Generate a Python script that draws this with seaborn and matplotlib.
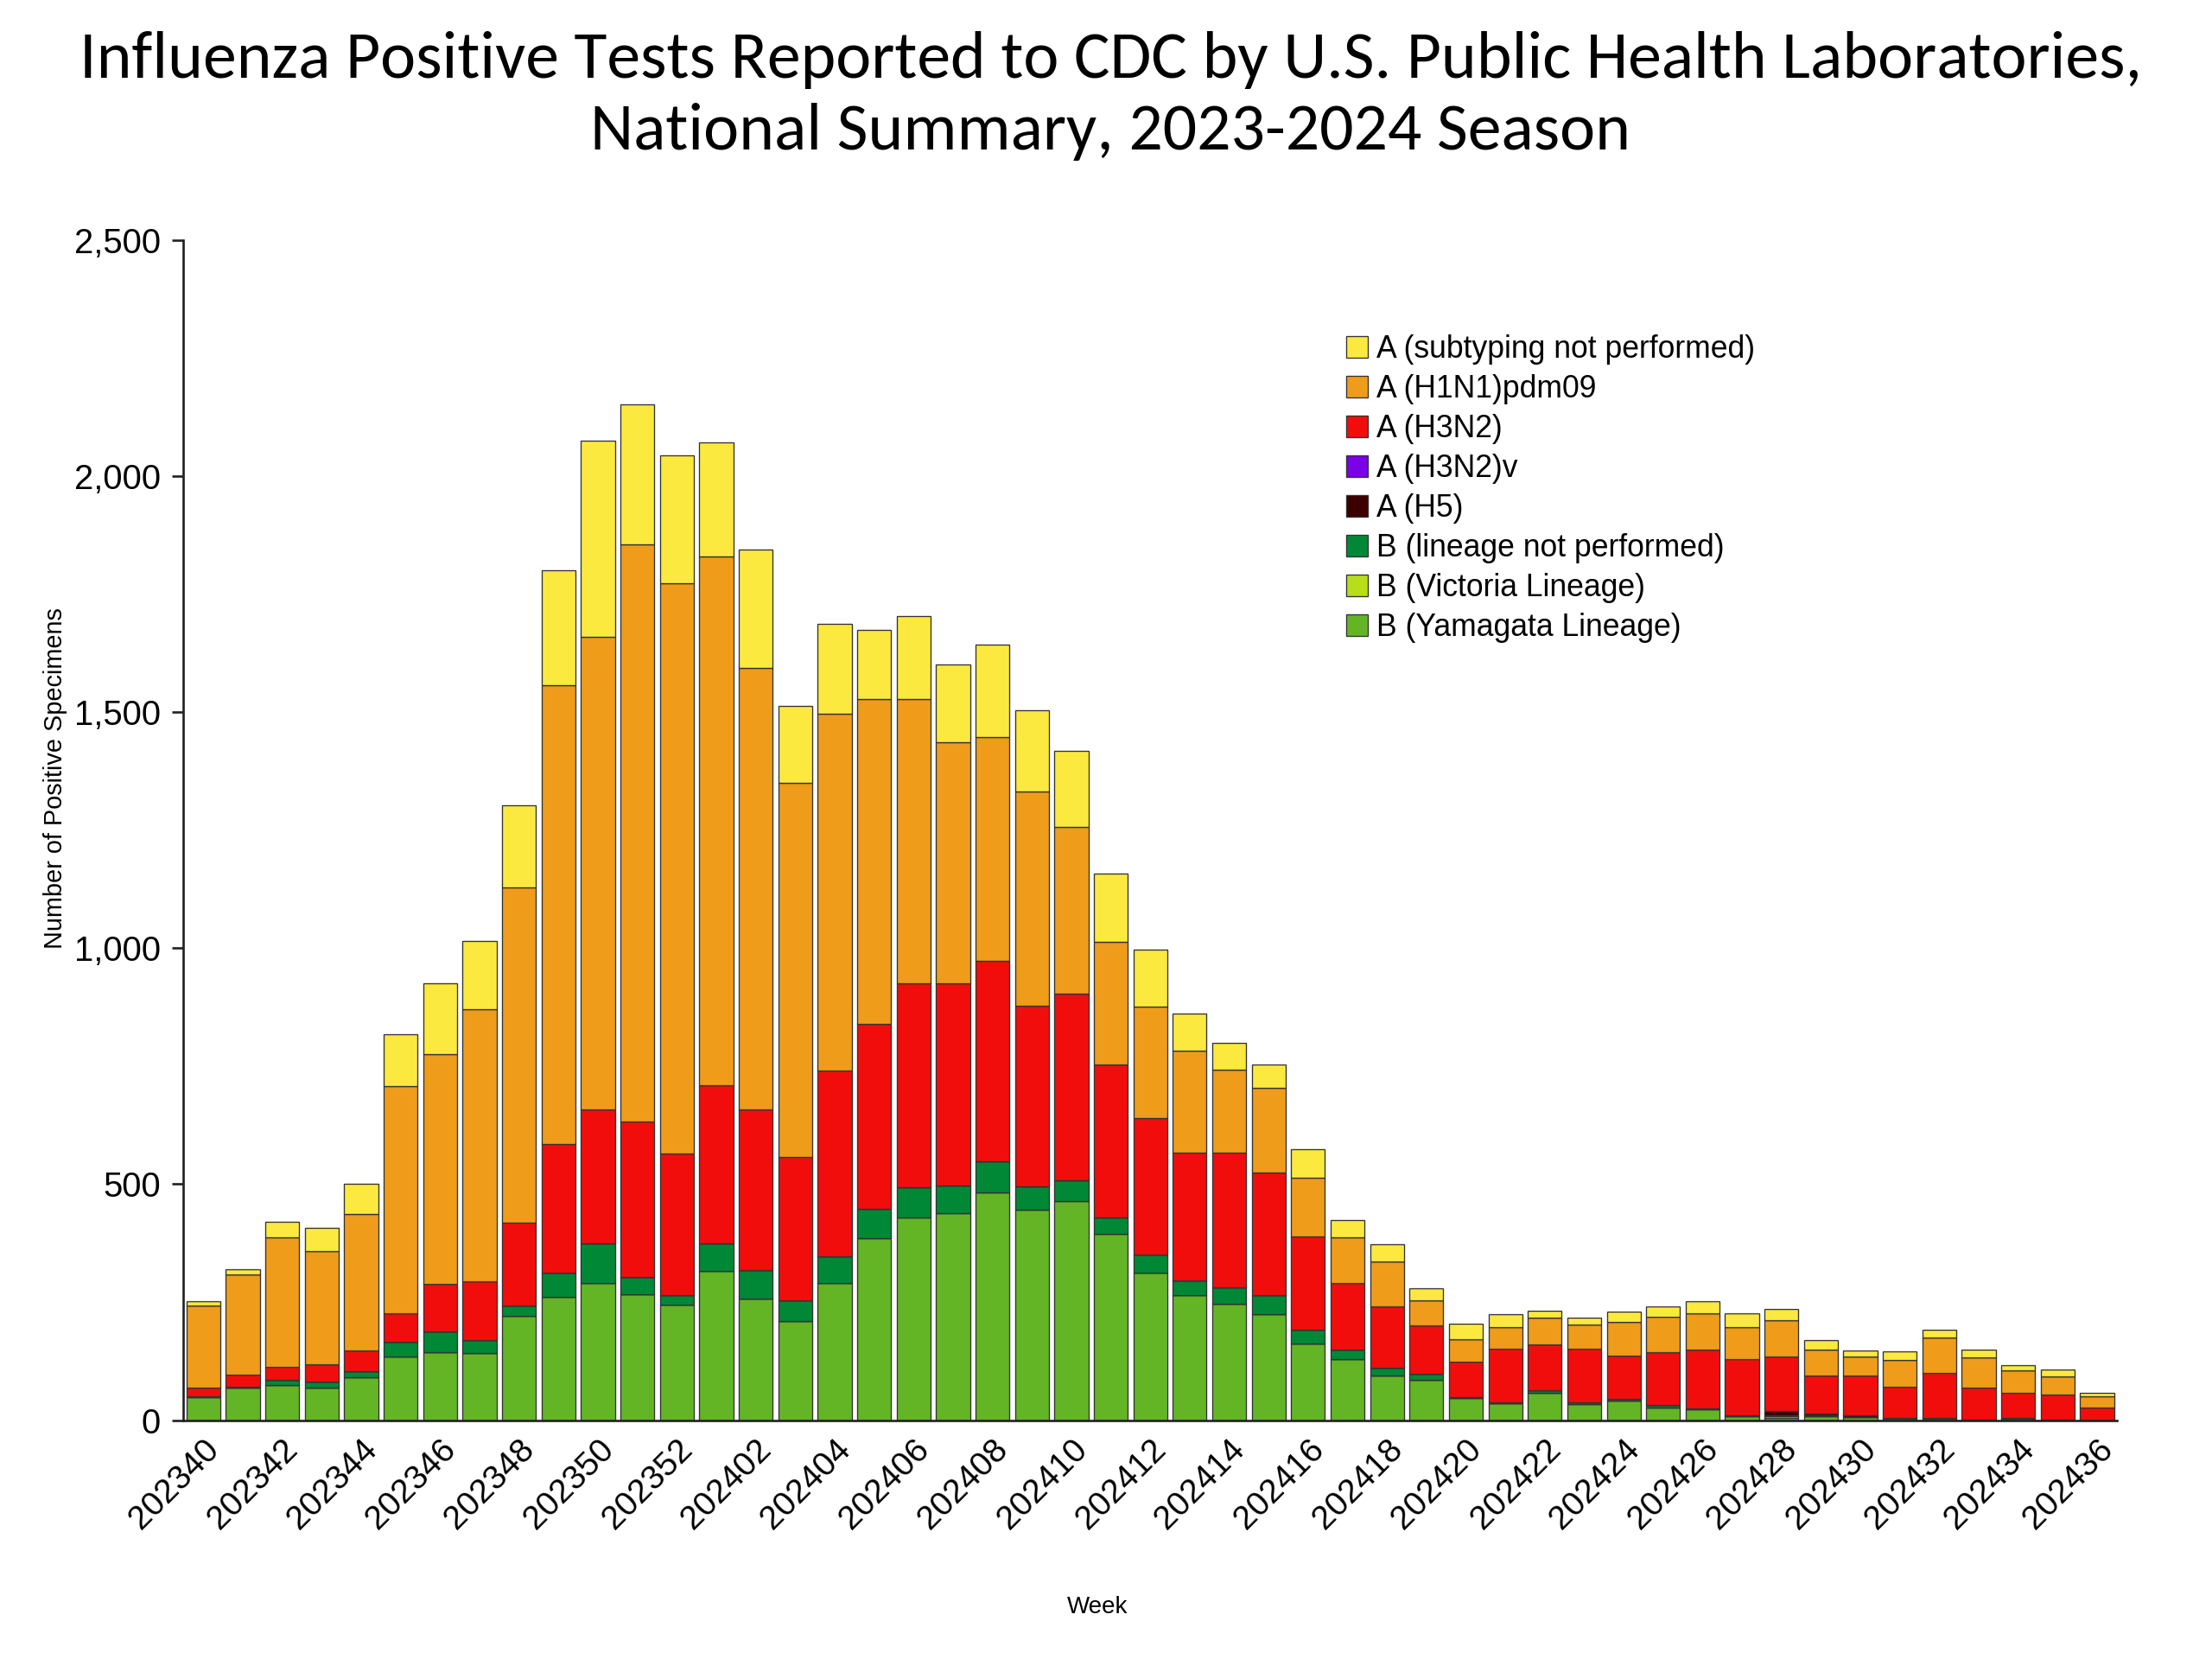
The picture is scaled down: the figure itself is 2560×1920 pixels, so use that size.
import numpy as np
import pandas as pd
import seaborn as sns
import matplotlib.pyplot as plt
from matplotlib.patches import Patch

# Semanas epidemiologicas
weeks = [str(w) for w in range(202340, 202353)] + [str(w) for w in range(202401, 202437)]

# Valores (por serie)
b_yam = [49, 68, 74, 69, 91, 134, 144, 142, 220, 261, 291, 267, 244, 316, 257, 209, 290, 385, 429, 438,
         483, 446, 464, 395, 313, 264, 247, 225, 163, 130, 95, 85, 47, 36, 58, 34, 42, 27, 23, 8,
         5, 8, 7, 3, 3, 1, 3, 1, 0]
b_vic = [0] * 40 + [4, 0, 0, 0, 0, 0, 0, 0, 0]
b_lnp = [2, 3, 11, 12, 12, 32, 44, 27, 23, 52, 83, 36, 21, 59, 61, 45, 57, 62, 64, 59,
         65, 49, 44, 35, 37, 31, 34, 39, 29, 19, 16, 13, 1, 0, 5, 4, 2, 5, 1, 1,
         2, 2, 0, 1, 1, 0, 2, 0, 0]
a_h5 = [0] * 33 + [2, 0, 0, 0, 0, 0, 2, 9, 4, 3, 0, 0, 0, 0, 0, 0]
a_h3v = [0] * 49
a_h3 = [17, 25, 27, 37, 44, 60, 101, 125, 176, 273, 284, 330, 300, 334, 341, 303, 393, 393, 433, 429,
        426, 383, 396, 323, 291, 272, 286, 261, 197, 142, 129, 102, 75, 113, 97, 113, 92, 112, 126, 118,
        114, 80, 84, 67, 95, 68, 53, 53, 27]
a_h1 = [175, 212, 275, 240, 289, 482, 487, 577, 710, 971, 1002, 1224, 1209, 1122, 935, 794, 757, 688, 603, 511,
        473, 454, 353, 261, 235, 216, 176, 179, 125, 97, 96, 53, 49, 45, 57, 52, 71, 74, 76, 68,
        77, 55, 41, 57, 76, 63, 47, 39, 23]
a_nst = [9, 11, 34, 49, 64, 110, 149, 145, 174, 245, 416, 295, 270, 241, 252, 162, 191, 147, 175, 164,
         197, 173, 161, 145, 122, 78, 56, 49, 61, 36, 37, 27, 33, 28, 14, 14, 23, 23, 26, 29,
         25, 20, 12, 17, 17, 17, 12, 15, 7]

labels = ["A (subtyping not performed)", "A (H1N1)pdm09", "A (H3N2)", "A (H3N2)v", "A (H5)",
          "B (lineage not performed)", "B (Victoria Lineage)", "B (Yamagata Lineage)"]
series = [a_nst, a_h1, a_h3, a_h3v, a_h5, b_lnp, b_vic, b_yam]
colors = ["#FCE93F", "#EE9C1A", "#F20D0D", "#7A00E6", "#3C0000", "#008837", "#B8DE1A", "#63B525"]

rows = []
for lab, vals in zip(labels, series):
    for i, v in enumerate(vals):
        rows.append({"idx": i, "Subtype": lab, "Count": v})
df = pd.DataFrame(rows)

sns.set_style("white")
plt.rcParams['font.family'] = ['Liberation Sans', 'DejaVu Sans']
for k in ["text.color", "axes.labelcolor", "xtick.color", "ytick.color"]:
    plt.rcParams[k] = "black"

fig = plt.figure(figsize=(16, 12), dpi=160)
ax = fig.add_axes([0.083, 0.144, 0.874, 0.711])

sns.histplot(data=df, x="idx", weights="Count", hue="Subtype", hue_order=labels,
             palette=dict(zip(labels, colors)), multiple="stack", discrete=True, shrink=0.86,
             edgecolor="#333333", linewidth=0.6, alpha=1, legend=False, ax=ax)

ax.set_xlim(-0.5, len(weeks) - 0.5)
ax.set_ylim(0, 2500)
ax.set_yticks(range(0, 2501, 500))
ax.set_yticklabels([f"{v:,}" for v in range(0, 2501, 500)], fontsize=18)
ax.set_xticks(range(0, len(weeks), 2))
ax.set_xticklabels(weeks[::2], rotation=45, ha="right", rotation_mode="anchor", fontsize=17.5)
ax.set_xticks(np.arange(-0.5, len(weeks), 1), minor=True)
ax.tick_params(axis="x", which="major", length=0, pad=7)
ax.tick_params(axis="x", which="minor", length=6, width=1.2, color="#222222", direction="out")
ax.tick_params(axis="y", length=6, width=1.2, color="#222222", direction="out", left=True, pad=6)
ax.set_xlabel("")
ax.set_ylabel("Number of Positive Specimens", fontsize=13)
ax.yaxis.set_label_coords(-0.06, 0.544)
sns.despine(ax=ax)
for s in ["left", "bottom"]:
    ax.spines[s].set_color("#222222")
    ax.spines[s].set_linewidth(1.2)

fig.text(0.496, 0.031, "Week", ha="center", va="center", fontsize=12.5)
title_font = ['Carlito', 'Lato', 'DejaVu Sans']
fig.text(0.502, 0.953, "Influenza Positive Tests Reported to CDC by U.S. Public Health Laboratories,",
         ha="center", va="baseline", fontsize=35, family=title_font)
fig.text(0.502, 0.910, "National Summary, 2023-2024 Season",
         ha="center", va="baseline", fontsize=35, family=title_font)

handles = [Patch(facecolor=c, edgecolor="#333333", linewidth=0.6, label=l) for l, c in zip(labels, colors)]
fig.legend(handles=handles, loc="upper left", bbox_to_anchor=(0.596, 0.815), frameon=False,
           fontsize=16, handlelength=0.7, handleheight=0.7, handletextpad=0.3, labelspacing=0.31)

fig.savefig("out.png", dpi=160, facecolor="white")
